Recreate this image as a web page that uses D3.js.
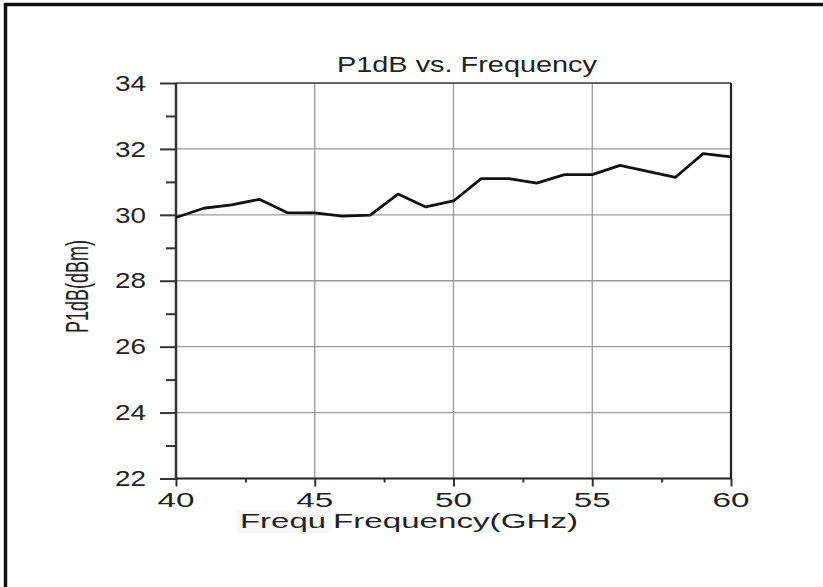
<!DOCTYPE html>
<html><head><meta charset="utf-8">
<script src="https://cdn.jsdelivr.net/npm/d3@7"></script>
<style>
body{margin:0;background:#fff}
svg{display:block}
text{font-family:"Liberation Sans",Arial,sans-serif;fill:#222}
</style>
</head><body>
<svg id="c" width="823" height="587"></svg>
<script>
const frequencies=[40,41,42,43,44,45,46,47,48,49,50,51,52,53,54,55,56,57,58,59,60];
const p1db=[29.92,30.2,30.3,30.47,30.07,30.06,29.96,29.99,30.63,30.24,30.42,31.1,31.1,30.96,31.22,31.22,31.5,31.32,31.14,31.86,31.76];
const xMajorTicks=[40,45,50,55,60];
const xMinorTicks=[42.5,47.5,52.5,57.5];
const yMajorTicks=[22,24,26,28,30,32,34];
const yMinorTicks=[23,25,27,29,31,33];
const titleText="P1dB vs. Frequency";
const yLabelText="P1dB(dBm)";
const xLabelParts=["Frequ","Frequency(GHz)"];

const svg=d3.select("#c");
const x=d3.scaleLinear().domain([40,60]).range([176,731]);
const y=d3.scaleLinear().domain([22,34]).range([478.5,83]);

// outer border (left + top visible)
svg.append("path").attr("d","M5.5,587V4.5H823").attr("fill","none").attr("stroke","#111").attr("stroke-width",3.5);

// grid
svg.append("g").selectAll("line").data([24,26,28,30,32]).join("line")
  .attr("x1",x(40)).attr("x2",x(60)).attr("y1",d=>y(d)).attr("y2",d=>y(d))
  .attr("stroke","#9a9a9a").attr("stroke-width",1.3);
svg.append("g").selectAll("line").data([45,50,55]).join("line")
  .attr("y1",y(22)).attr("y2",y(34)).attr("x1",d=>x(d)).attr("x2",d=>x(d))
  .attr("stroke","#9a9a9a").attr("stroke-width",1.3);

// frame top/right
svg.append("line").attr("x1",x(40)).attr("x2",x(60)).attr("y1",y(34)).attr("y2",y(34)).attr("stroke","#333").attr("stroke-width",1.6);
svg.append("line").attr("x1",x(60)).attr("x2",x(60)).attr("y1",y(34)).attr("y2",y(22)).attr("stroke","#222").attr("stroke-width",2.2);

// axes
const yAx=svg.append("g").attr("transform",`translate(${x(40)},0)`)
  .call(d3.axisLeft(y).tickValues(yMajorTicks).tickSize(16).tickFormat(""));
const yAxMin=svg.append("g").attr("transform",`translate(${x(40)},0)`)
  .call(d3.axisLeft(y).tickValues(yMinorTicks).tickSize(10).tickFormat(""));
const xAx=svg.append("g").attr("transform",`translate(0,${y(22)})`)
  .call(d3.axisBottom(x).tickValues(xMajorTicks).tickSize(8).tickFormat(""));
const xAxMin=svg.append("g").attr("transform",`translate(0,${y(22)})`)
  .call(d3.axisBottom(x).tickValues(xMinorTicks).tickSize(4).tickFormat(""));
[yAx,yAxMin,xAx,xAxMin].forEach(g=>{
  g.selectAll(".domain").remove();
  g.selectAll(".tick line").attr("stroke","#333").attr("stroke-width",2);
});
svg.append("line").attr("x1",x(40)).attr("x2",x(40)).attr("y1",y(34)).attr("y2",y(22)+1).attr("stroke","#333").attr("stroke-width",2.5);
svg.append("line").attr("x1",x(40)).attr("x2",x(60)+1).attr("y1",y(22)).attr("y2",y(22)).attr("stroke","#222").attr("stroke-width",2.2);

// tick labels
svg.append("g").selectAll("text").data(yMajorTicks).join("text")
  .attr("x",146).attr("y",d=>y(d)).attr("dy","0.36em").attr("text-anchor","end")
  .attr("font-size",21.5).attr("textLength",31).attr("lengthAdjust","spacingAndGlyphs")
  .text(d=>d);
svg.append("g").selectAll("text").data(xMajorTicks).join("text")
  .attr("x",d=>x(d)-18.5).attr("y",507).attr("text-anchor","start")
  .attr("font-size",20.5).attr("textLength",37).attr("lengthAdjust","spacingAndGlyphs")
  .text(d=>d);

// title
svg.append("text").attr("x",337).attr("y",71.5).attr("font-size",22.5)
  .attr("textLength",260).attr("lengthAdjust","spacingAndGlyphs").text(titleText);

// x label
svg.append("rect").attr("x",237).attr("y",510).attr("width",94).attr("height",23).attr("fill","#f7f7f7");
svg.append("text").attr("x",240).attr("y",528).attr("font-size",21)
  .attr("textLength",86).attr("lengthAdjust","spacingAndGlyphs").text(xLabelParts[0]);
svg.append("text").attr("x",333).attr("y",528).attr("font-size",21)
  .attr("textLength",245).attr("lengthAdjust","spacingAndGlyphs").text(xLabelParts[1]);

// y label
svg.append("text").attr("transform","translate(88,286.5) rotate(-90)")
  .attr("text-anchor","middle").attr("font-size",31)
  .attr("textLength",93).attr("lengthAdjust","spacingAndGlyphs").text(yLabelText);

// data line
svg.append("path").datum(frequencies.map((f,i)=>[f,p1db[i]]))
  .attr("fill","none").attr("stroke","#111").attr("stroke-width",2.8).attr("stroke-linejoin","round")
  .attr("d",d3.line().x(d=>x(d[0])).y(d=>y(d[1])));
</script>
</body></html>
